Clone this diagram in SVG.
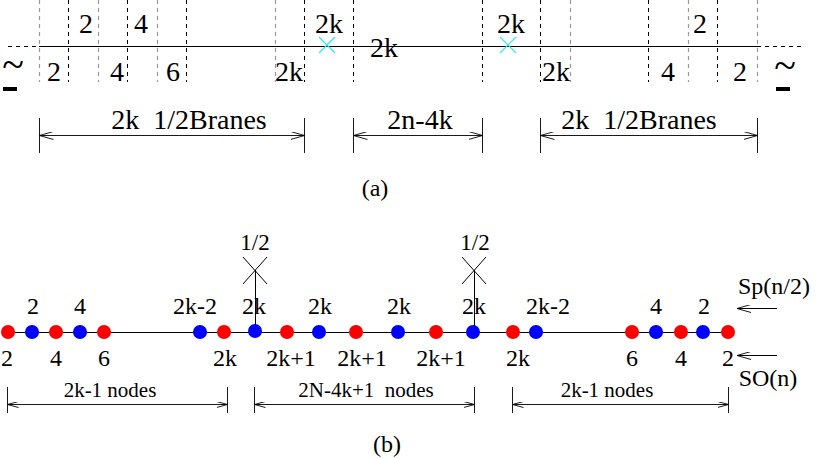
<svg xmlns="http://www.w3.org/2000/svg" width="817" height="459" viewBox="0 0 817 459">
<style>
text{font-family:"Liberation Serif","Times New Roman",serif;fill:#000;text-anchor:middle}
.la{font-size:28px}
.lb{font-size:24px}
.ln{font-size:21px}
.half{font-size:23px}
.cap{font-size:24px}
.tl{font-size:40px}
.vd{stroke:#000;stroke-width:1;stroke-dasharray:4 4;fill:none}
.vg{stroke:#999;stroke-width:1.2;stroke-dasharray:4 4;fill:none}
.ln1{stroke:#000;stroke-width:1;fill:none}
.dim{stroke:#000;stroke-width:0.9;fill:none;marker-start:url(#ah);marker-end:url(#ah)}
.dimb{stroke:#000;stroke-width:0.9;fill:none;marker-start:url(#ahs);marker-end:url(#ahs)}
.tick{stroke:#000;stroke-width:0.9}
.cx{stroke:#33e6f0;stroke-width:1.2}
.bx{stroke:#000;stroke-width:1}
.r{fill:#ff0000}
.b{fill:#0000ff}
</style>
<defs>
<marker id="ah" viewBox="0 0 14 8" refX="14" refY="4" markerWidth="14" markerHeight="8" markerUnits="userSpaceOnUse" orient="auto-start-reverse">
<path d="M0,0 L14,4 L0,8" fill="none" stroke="#000" stroke-width="0.9"/>
</marker>
<marker id="ahs" viewBox="0 0 11 6" refX="11" refY="3" markerWidth="11" markerHeight="6" markerUnits="userSpaceOnUse" orient="auto-start-reverse">
<path d="M0,0 L11,3 L0,6" fill="none" stroke="#000" stroke-width="0.9"/>
</marker>
<marker id="ahl" viewBox="0 0 14 8" refX="14" refY="4" markerWidth="14" markerHeight="8" markerUnits="userSpaceOnUse" orient="auto">
<path d="M0,0 L14,4 L0,8" fill="none" stroke="#000" stroke-width="0.9"/>
</marker>
</defs>

<!-- Part (a) -->
<g id="brane-grid">
<line class="vg" x1="39.5" y1="0" x2="39.5" y2="82"/>
<line class="vd" x1="68.5" y1="0" x2="68.5" y2="82"/>
<line class="vg" x1="98.5" y1="0" x2="98.5" y2="82"/>
<line class="vd" x1="127.5" y1="0" x2="127.5" y2="82"/>
<line class="vg" x1="157.5" y1="0" x2="157.5" y2="82"/>
<line class="vd" x1="186.5" y1="0" x2="186.5" y2="82"/>
<line class="vg" x1="275.5" y1="0" x2="275.5" y2="82"/>
<line class="vd" x1="304.5" y1="0" x2="304.5" y2="82"/>
<line class="vd" x1="353.5" y1="0" x2="353.5" y2="82"/>
<line class="vd" x1="482.5" y1="0" x2="482.5" y2="82"/>
<line class="vd" x1="540.5" y1="0" x2="540.5" y2="82"/>
<line class="vg" x1="570.5" y1="0" x2="570.5" y2="82"/>
<line class="vd" x1="648.5" y1="0" x2="648.5" y2="82"/>
<line class="vg" x1="688.5" y1="0" x2="688.5" y2="82"/>
<line class="vd" x1="717.5" y1="0" x2="717.5" y2="82"/>
<line class="vg" x1="757.5" y1="0" x2="757.5" y2="82"/>
<line class="ln1" x1="39" y1="46.5" x2="757" y2="46.5"/>
<line class="vd" x1="8" y1="46.5" x2="39" y2="46.5"/>
<line class="vd" x1="757" y1="46.5" x2="802" y2="46.5"/>
</g>
<g id="orientifold-left">
<line class="cx" x1="319" y1="37" x2="335" y2="53"/>
<line class="cx" x1="319" y1="53" x2="335" y2="37"/>
</g>
<g id="orientifold-right">
<line class="cx" x1="500" y1="37" x2="516" y2="53"/>
<line class="cx" x1="500" y1="53" x2="516" y2="37"/>
</g>
<g id="labels-a">
<text class="la" x="86" y="33">2</text>
<text class="la" x="141" y="33">4</text>
<text class="la" x="329" y="33">2k</text>
<text class="la" x="511" y="33">2k</text>
<text class="la" x="700" y="33">2</text>
<text class="la" x="384" y="57">2k</text>
<text class="la" x="54" y="81">2</text>
<text class="la" x="117" y="81">4</text>
<text class="la" x="173" y="81">6</text>
<text class="la" x="289" y="81">2k</text>
<text class="la" x="556" y="81">2k</text>
<text class="la" x="668" y="81">4</text>
<text class="la" x="740" y="81">2</text>
</g>
<g id="sim-left">
<text class="tl" x="13" y="78">~</text>
<rect x="3" y="87" width="14" height="4" fill="#000"/>
</g>
<g id="sim-right">
<text class="tl" x="785" y="79">~</text>
<rect x="776" y="87" width="14" height="4" fill="#000"/>
</g>
<g id="connectors-a">
<line class="tick" x1="39.5" y1="118" x2="39.5" y2="153"/>
<line class="tick" x1="304.5" y1="118" x2="304.5" y2="153"/>
<line class="dim" x1="39.5" y1="135.5" x2="304.5" y2="135.5"/>
<line class="tick" x1="353.5" y1="118" x2="353.5" y2="153"/>
<line class="tick" x1="482.5" y1="118" x2="482.5" y2="153"/>
<line class="dim" x1="353.5" y1="135.5" x2="482.5" y2="135.5"/>
<line class="tick" x1="540.5" y1="118" x2="540.5" y2="153"/>
<line class="tick" x1="757.5" y1="118" x2="757.5" y2="153"/>
<line class="dim" x1="540.5" y1="135.5" x2="757.5" y2="135.5"/>
</g>
<g id="dimlabels-a">
<text class="la" x="189" y="129" xml:space="preserve">2k  1/2Branes</text>
<text class="la" x="420" y="129">2n-4k</text>
<text class="la" x="639" y="129" xml:space="preserve">2k  1/2Branes</text>
<text class="cap" x="375" y="196">(a)</text>
</g>

<!-- Part (b) -->
<g id="connectors-b">
<line class="ln1" x1="8" y1="332.5" x2="728" y2="332.5"/>
<line class="ln1" x1="255.5" y1="270" x2="255.5" y2="331"/>
<line class="ln1" x1="474.5" y1="270" x2="474.5" y2="331"/>
<line class="tick" x1="7.5" y1="387" x2="7.5" y2="413"/>
<line class="tick" x1="227.5" y1="387" x2="227.5" y2="413"/>
<line class="dimb" x1="7.5" y1="404.5" x2="227.5" y2="404.5"/>
<line class="tick" x1="254.5" y1="387" x2="254.5" y2="413"/>
<line class="tick" x1="474.5" y1="387" x2="474.5" y2="413"/>
<line class="dimb" x1="254.5" y1="404.5" x2="474.5" y2="404.5"/>
<line class="tick" x1="512.5" y1="387" x2="512.5" y2="413"/>
<line class="tick" x1="728.5" y1="387" x2="728.5" y2="413"/>
<line class="dimb" x1="512.5" y1="404.5" x2="728.5" y2="404.5"/>
<line class="ln1" x1="777" y1="308.5" x2="737" y2="308.5" marker-end="url(#ahl)"/>
<line class="ln1" x1="777" y1="355.5" x2="737" y2="355.5" marker-end="url(#ahl)"/>
</g>
<g id="halfbrane-left">
<line class="bx" x1="243" y1="257" x2="267" y2="284"/>
<line class="bx" x1="243" y1="284" x2="267" y2="257"/>
<text class="half" x="255" y="250">1/2</text>
</g>
<g id="halfbrane-right">
<line class="bx" x1="462" y1="257" x2="486" y2="284"/>
<line class="bx" x1="462" y1="284" x2="486" y2="257"/>
<text class="half" x="475" y="250">1/2</text>
</g>
<g id="nodes">
<g id="r1"><circle class="r" cx="8" cy="332" r="7"/></g>
<g id="b1"><circle class="b" cx="32" cy="332" r="7"/></g>
<g id="r2"><circle class="r" cx="56" cy="332" r="7"/></g>
<g id="b2"><circle class="b" cx="80" cy="332" r="7"/></g>
<g id="r3"><circle class="r" cx="104" cy="332" r="7"/></g>
<g id="b3"><circle class="b" cx="200" cy="332" r="7"/></g>
<g id="r4"><circle class="r" cx="224" cy="332" r="7"/></g>
<g id="b4"><circle class="b" cx="255" cy="331" r="7"/></g>
<g id="r5"><circle class="r" cx="287" cy="332" r="7"/></g>
<g id="b5"><circle class="b" cx="319" cy="332" r="7"/></g>
<g id="r6"><circle class="r" cx="356" cy="332" r="7"/></g>
<g id="b6"><circle class="b" cx="398" cy="332" r="7"/></g>
<g id="r7"><circle class="r" cx="436" cy="332" r="7"/></g>
<g id="b7"><circle class="b" cx="473" cy="332" r="7"/></g>
<g id="r8"><circle class="r" cx="513" cy="332" r="7"/></g>
<g id="b8"><circle class="b" cx="536" cy="332" r="7"/></g>
<g id="r9"><circle class="r" cx="632" cy="332" r="7"/></g>
<g id="b9"><circle class="b" cx="656" cy="332" r="7"/></g>
<g id="r10"><circle class="r" cx="681" cy="332" r="7"/></g>
<g id="b10"><circle class="b" cx="703" cy="332" r="7"/></g>
<g id="r11"><circle class="r" cx="728" cy="332" r="7"/></g>
</g>
<g id="labels-b">
<text class="lb" x="33" y="314">2</text>
<text class="lb" x="80" y="314">4</text>
<text class="lb" x="195" y="314">2k-2</text>
<text class="lb" x="254" y="314">2k</text>
<text class="lb" x="320" y="314">2k</text>
<text class="lb" x="399" y="314">2k</text>
<text class="lb" x="474" y="314">2k</text>
<text class="lb" x="548" y="314">2k-2</text>
<text class="lb" x="656" y="314">4</text>
<text class="lb" x="704" y="314">2</text>
<text class="lb" x="7" y="366">2</text>
<text class="lb" x="56" y="366">4</text>
<text class="lb" x="104" y="366">6</text>
<text class="lb" x="225" y="366">2k</text>
<text class="lb" x="291" y="366">2k+1</text>
<text class="lb" x="362" y="366">2k+1</text>
<text class="lb" x="441" y="366">2k+1</text>
<text class="lb" x="518" y="366">2k</text>
<text class="lb" x="632" y="366">6</text>
<text class="lb" x="681" y="366">4</text>
<text class="lb" x="728" y="366">2</text>
<text class="lb" x="774" y="294">Sp(n/2)</text>
<text class="lb" x="768" y="386">SO(n)</text>
</g>
<g id="dimlabels-b">
<text class="ln" x="110" y="397">2k-1 nodes</text>
<text class="ln" x="366" y="397" xml:space="preserve">2N-4k+1  nodes</text>
<text class="ln" x="607" y="397">2k-1 nodes</text>
<text class="cap" x="387" y="452">(b)</text>
</g>
</svg>
